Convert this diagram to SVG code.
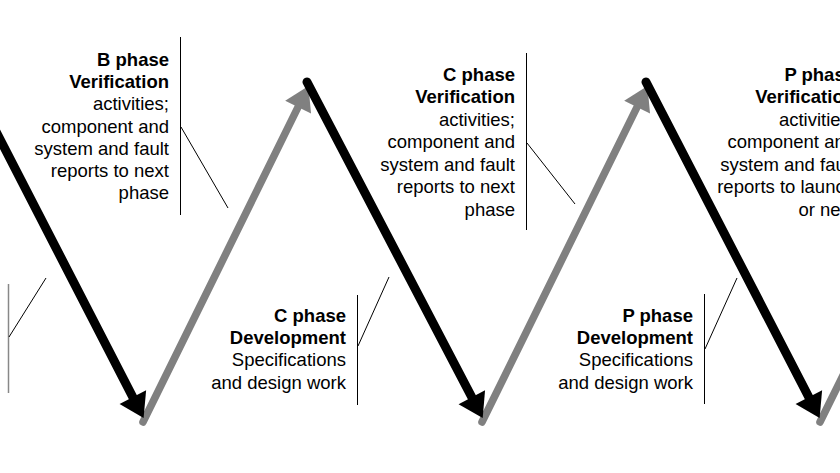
<svg xmlns="http://www.w3.org/2000/svg" width="840" height="473" viewBox="0 0 840 473">
<style>
text{font-family:"Liberation Sans",Arial,sans-serif;font-size:18.5px;fill:#000;text-anchor:end}
.b{font-weight:bold}
.blk{stroke:#000;stroke-width:9;stroke-linecap:round;fill:none}
.gry{stroke:#808080;stroke-width:7.5;stroke-linecap:round;fill:none}
.lead{stroke:#000;stroke-width:1;fill:none}
</style>
<defs>
<marker id="ahB" markerUnits="userSpaceOnUse" markerWidth="30" markerHeight="32" viewBox="0 -15 24 30" refX="4" refY="0" orient="auto">
<path d="M0,-14 L22,0 L0,14 Z" fill="#000"/>
</marker>
<marker id="ahG" markerUnits="userSpaceOnUse" markerWidth="30" markerHeight="32" viewBox="0 -15 24 30" refX="4" refY="0" orient="auto">
<path d="M0,-13.5 L22,0 L0,13.5 Z" fill="#808080"/>
</marker>
</defs>
<rect width="840" height="473" fill="#fff"/>
<g id="connectors">
<line class="gry" x1="143" y1="422" x2="300" y2="103.2" marker-end="url(#ahG)"/>
<line class="gry" x1="482" y1="422" x2="639" y2="103.2" marker-end="url(#ahG)"/>
<line class="gry" x1="820" y1="422" x2="900" y2="260"/>
<line class="blk" x1="-30" y1="81" x2="134.8" y2="401" marker-end="url(#ahB)"/>
<line class="blk" x1="307" y1="82" x2="473.8" y2="401" marker-end="url(#ahB)"/>
<line class="blk" x1="646" y1="82" x2="810.8" y2="401" marker-end="url(#ahB)"/>
</g>
<g id="b-verification">
<line class="lead" x1="180.5" y1="37" x2="180.5" y2="215"/>
<line class="lead" x1="181" y1="127" x2="228" y2="208"/>
<text x="169" y="66" class="b">B phase</text>
<text x="169" y="88" class="b">Verification</text>
<text x="169" y="110">activities;</text>
<text x="169" y="133">component and</text>
<text x="169" y="155">system and fault</text>
<text x="169" y="177">reports to next</text>
<text x="169" y="199">phase</text>
</g>
<g id="c-verification">
<line class="lead" x1="526.5" y1="53" x2="526.5" y2="230"/>
<line class="lead" x1="527" y1="143" x2="575" y2="204"/>
<text x="515" y="81" class="b">C phase</text>
<text x="515" y="103" class="b">Verification</text>
<text x="515" y="126">activities;</text>
<text x="515" y="148">component and</text>
<text x="515" y="171">system and fault</text>
<text x="515" y="193">reports to next</text>
<text x="515" y="216">phase</text>
</g>
<g id="p-verification">
<text x="855" y="81" class="b">P phase</text>
<text x="855" y="103" class="b">Verification</text>
<text x="855" y="126">activities;</text>
<text x="855" y="148">component and</text>
<text x="855" y="171">system and fault</text>
<text x="855" y="193">reports to launch</text>
<text x="855" y="216">or next</text>
</g>
<g id="b-development">
<line x1="8.5" y1="284" x2="8.5" y2="393" stroke="#888" stroke-width="1.5"/>
<line class="lead" x1="9" y1="337" x2="46" y2="278"/>
</g>
<g id="c-development">
<line class="lead" x1="357.5" y1="295" x2="357.5" y2="405"/>
<line class="lead" x1="358" y1="346" x2="389" y2="277"/>
<text x="346" y="322" class="b">C phase</text>
<text x="346" y="344" class="b">Development</text>
<text x="346" y="366">Specifications</text>
<text x="346" y="389">and design work</text>
</g>
<g id="p-development">
<line class="lead" x1="704.5" y1="294" x2="704.5" y2="404"/>
<line class="lead" x1="705" y1="349" x2="737" y2="278"/>
<text x="693" y="322" class="b">P phase</text>
<text x="693" y="344" class="b">Development</text>
<text x="693" y="366">Specifications</text>
<text x="693" y="389">and design work</text>
</g>
</svg>
